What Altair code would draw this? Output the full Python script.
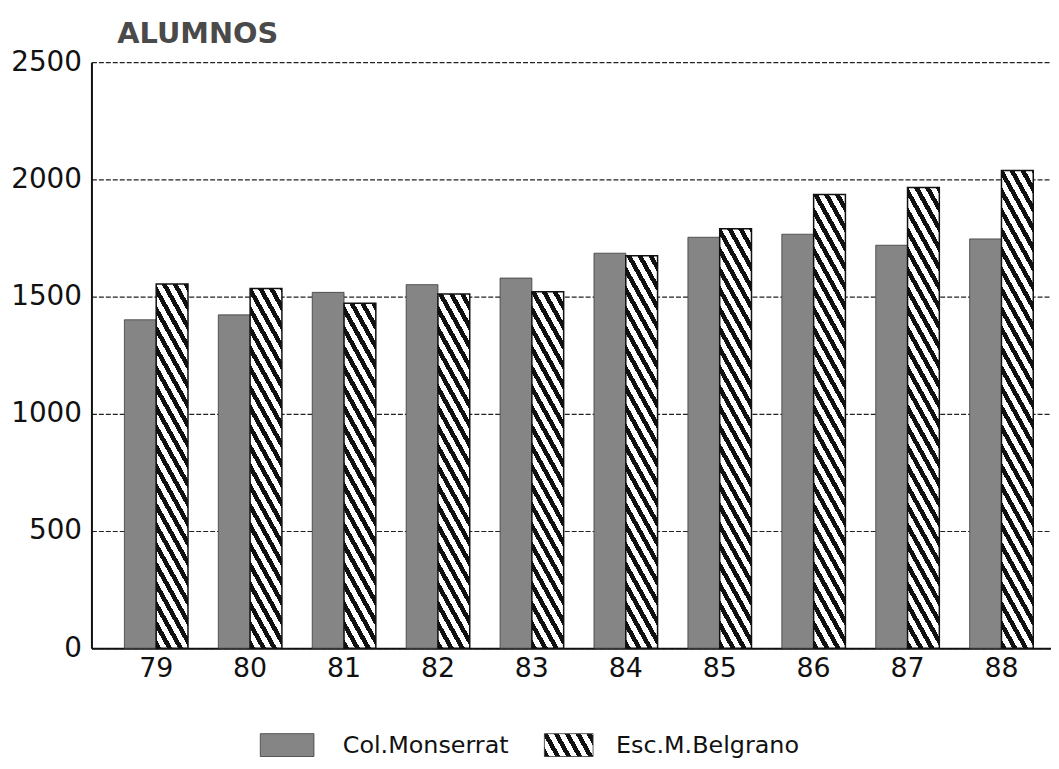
import altair as alt
import pandas as pd

years = ["79", "80", "81", "82", "83", "84", "85", "86", "87", "88"]
monserrat = [1401, 1422, 1518, 1551, 1579, 1685, 1753, 1766, 1719, 1746]
belgrano = [1554, 1535, 1472, 1511, 1521, 1674, 1789, 1935, 1965, 2038]
series = ["Col.Monserrat", "Esc.M.Belgrano"]
y_ticks = [0, 500, 1000, 1500, 2000, 2500]
title_text = "ALUMNOS"

rows = []
for yr, m, b in zip(years, monserrat, belgrano):
    rows.append({"year": yr, "serie": series[0], "value": m})
    rows.append({"year": yr, "serie": series[1], "value": b})
df = pd.DataFrame(rows)

W, H = 966, 590
YMAX = 2500
BAR_W = 32


def hatch(w, h, s=1.8, p=11.0, frac=0.47):
    c = (s * w + h) / (s * s * w * w + h * h)
    x2 = c * s * w
    y2 = 1 - c * h
    n = (s * w + h) / (p * s)
    stops = []
    k = 0
    while k / n < 1:
        a = k / n
        b = min((k + frac) / n, 1)
        e = min((k + 1) / n, 1)
        stops += [
            {"offset": a, "color": "#111111"},
            {"offset": b, "color": "#111111"},
            {"offset": b, "color": "#ffffff"},
            {"offset": e, "color": "#ffffff"},
        ]
        k += 1
    return {"gradient": "linear", "x1": 0, "y1": 1, "x2": x2, "y2": y2, "stops": stops}


xscale = alt.Scale(paddingInner=0.323, paddingOuter=0.27, align=0.65)
x_enc = alt.X(
    "year:N",
    sort=years,
    scale=xscale,
    axis=alt.Axis(
        title=None,
        labelAngle=0,
        ticks=False,
        labelPadding=7,
        labelFont="DejaVu Sans",
        labelFontSize=27,
        labelColor="#111111",
        domainColor="#111111",
        domainWidth=2,
        grid=False,
    ),
)
xo_enc = alt.XOffset("serie:N", scale=alt.Scale(domain=series, paddingInner=0, paddingOuter=0))
y_enc = alt.Y(
    "value:Q",
    scale=alt.Scale(domain=[0, YMAX], nice=False, zero=True),
    axis=alt.Axis(
        title=None,
        values=y_ticks,
        format="d",
        ticks=False,
        labelPadding=10,
        labelFont="DejaVu Sans",
        labelFontSize=28,
        labelColor="#111111",
        domainColor="#111111",
        domainWidth=2,
        grid=True,
        gridColor="#222222",
        gridDash=[5, 2],
        gridWidth=1.2,
    ),
)

base = alt.Chart(df)
layers = [
    base.transform_filter(alt.datum.serie == series[0])
    .mark_bar(fill="#858585", stroke="#3a3a3a", strokeWidth=0.8)
    .encode(x=x_enc, xOffset=xo_enc, y=y_enc)
]
for yr, b in zip(years, belgrano):
    h = b / YMAX * H
    layers.append(
        base.transform_filter((alt.datum.serie == series[1]) & (alt.datum.year == yr))
        .mark_bar(fill=hatch(BAR_W, h), stroke="#111111", strokeWidth=1.5)
        .encode(x=x_enc, xOffset=xo_enc, y=y_enc)
    )

title = (
    alt.Chart(pd.DataFrame({"t": [title_text]}))
    .mark_text(align="left", baseline="middle", font="DejaVu Sans", fontSize=29,
               fontWeight="bold", color="#4a4a4a")
    .encode(text="t:N", x=alt.value(26), y=alt.value(-28))
)

leg1_box = (
    alt.Chart(pd.DataFrame({"s": [series[0]]}))
    .mark_rect(fill="#858585", stroke="#3a3a3a", strokeWidth=0.8)
    .encode(x=alt.value(170), x2=alt.value(224), y=alt.value(676), y2=alt.value(699))
)
leg1_txt = (
    alt.Chart(pd.DataFrame({"s": [series[0]]}))
    .mark_text(align="left", baseline="middle", font="DejaVu Sans", fontSize=24, color="#111111")
    .encode(text="s:N", x=alt.value(253), y=alt.value(688))
)
leg2_box = (
    alt.Chart(pd.DataFrame({"s": [series[1]]}))
    .mark_rect(fill=hatch(49, 23), stroke="#333333", strokeWidth=0.8)
    .encode(x=alt.value(456), x2=alt.value(505), y=alt.value(676), y2=alt.value(699))
)
leg2_txt = (
    alt.Chart(pd.DataFrame({"s": [series[1]]}))
    .mark_text(align="left", baseline="middle", font="DejaVu Sans", fontSize=24, color="#111111")
    .encode(text="s:N", x=alt.value(528), y=alt.value(688))
)

chart = (
    alt.layer(*layers, title, leg1_box, leg1_txt, leg2_box, leg2_txt)
    .properties(
        width=W,
        height=H,
        autosize=alt.AutoSizeParams(type="none"),
        padding={"left": 84, "top": 52, "right": 0, "bottom": 110},
        background="white",
    )
    .configure_view(stroke=None)
)

chart.save("out.html", embed_options={"renderer": "svg", "actions": False})
